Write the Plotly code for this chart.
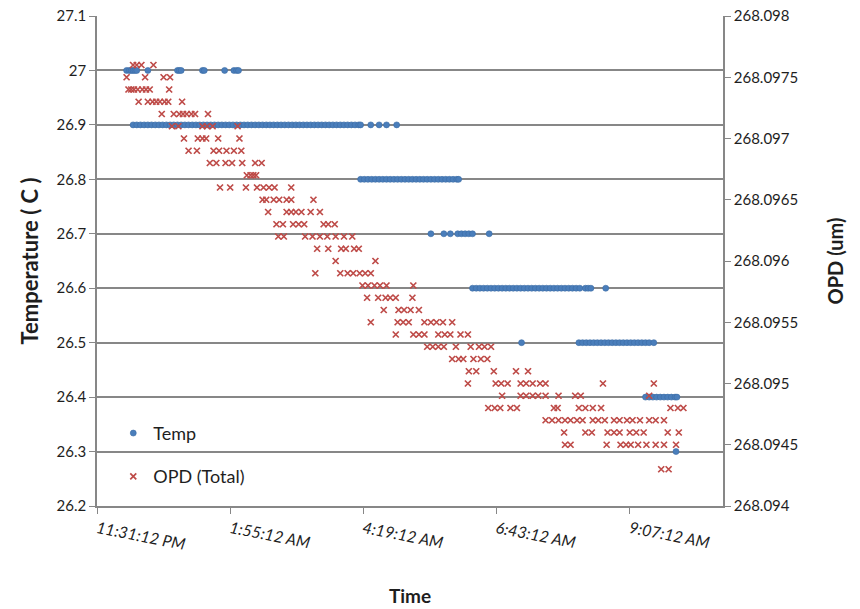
import pandas as pd
import plotly.graph_objects as go

# ---------------- data ----------------
start_time = "2020-01-01 23:31:12"          # 11:31:12 PM
x_axis_end_minutes = 676.8                  # axis max (0.47 day after start)

x_tick_minutes = [0, 144, 288, 432, 576]
x_tick_labels = ["11:31:12 PM", "1:55:12 AM", "4:19:12 AM", "6:43:12 AM", "9:07:12 AM"]

temp_tick_vals = [26.2, 26.3, 26.4, 26.5, 26.6, 26.7, 26.8, 26.9, 27.0, 27.1]
temp_tick_text = ["26.2", "26.3", "26.4", "26.5", "26.6", "26.7", "26.8", "26.9", "27", "27.1"]
opd_tick_vals = [268.094, 268.0945, 268.095, 268.0955, 268.096, 268.0965, 268.097, 268.0975, 268.098]
opd_tick_text = ["268.094", "268.0945", "268.095", "268.0955", "268.096", "268.0965", "268.097", "268.0975", "268.098"]

# Temperature samples: minutes after start, grouped by reading
temp_levels = [27.0, 26.9, 26.8, 26.7, 26.6, 26.5, 26.4, 26.3]
temp_minutes = [
    [32, 35, 37, 39, 41, 43, 55, 87, 89, 91, 114, 116, 138, 148, 151, 153],
    [39, 43, 47, 51, 55, 59, 63, 67, 71, 75, 79, 83, 87, 91, 95, 99, 103, 107, 111, 115,
     119, 123, 127, 131, 135, 139, 143, 147, 151, 155, 159, 163, 167, 171, 175, 179, 183,
     187, 191, 195, 199, 203, 207, 211, 215, 219, 223, 227, 231, 235, 239, 243, 247, 251,
     255, 259, 263, 267, 271, 275, 279, 283, 285, 296, 305, 313, 324],
    [285, 289, 293, 297, 301, 305, 309, 313, 317, 321, 325, 329, 333, 337, 341, 345, 349,
     353, 357, 361, 365, 369, 373, 377, 381, 385, 389, 391],
    [361, 375, 382, 390, 394, 398, 402, 406, 424],
    [406, 410, 414, 418, 422, 426, 430, 434, 438, 442, 446, 450, 454, 458, 462, 466, 470,
     474, 478, 482, 486, 490, 494, 498, 502, 506, 510, 514, 518, 522, 528, 531, 534, 550],
    [459, 521, 525, 529, 533, 537, 541, 545, 549, 553, 557, 561, 565, 569, 573, 577, 581,
     585, 589, 593, 597, 602],
    [593, 597, 601, 605, 609, 613, 617, 621, 625, 627],
    [626],
]

# OPD (Total) samples: minutes after start, grouped by reading (um)
opd_levels = [268.0976, 268.0975, 268.0974, 268.0973, 268.0972, 268.0971, 268.0970,
              268.0969, 268.0968, 268.0967, 268.0966, 268.0965, 268.0964, 268.0963,
              268.0962, 268.0961, 268.0960, 268.0959, 268.0958, 268.0957, 268.0956,
              268.0955, 268.0954, 268.0953, 268.0952, 268.0951, 268.0950, 268.0949,
              268.0948, 268.0947, 268.0946, 268.0945, 268.0943]
opd_minutes = [
    [39, 43, 48, 61],
    [32, 52, 72, 79],
    [34, 37, 40, 44, 49, 53, 57, 78],
    [45, 55, 60, 64, 68, 73, 77, 92],
    [70, 83, 89, 93, 97, 102, 106, 120],
    [81, 88, 114, 119, 125, 152],
    [94, 109, 114, 118, 131, 154],
    [99, 108, 126, 132, 140, 148, 156],
    [122, 129, 139, 146, 157, 171, 178],
    [162, 166, 169, 172],
    [133, 144, 161, 173, 180, 186, 192, 210],
    [179, 183, 191, 197, 205, 210, 234],
    [185, 205, 210, 215, 221, 231, 241],
    [194, 201, 212, 218, 224, 245, 250, 257],
    [196, 202, 225, 233, 241, 249, 258, 267, 276],
    [238, 250, 264, 269, 278, 283],
    [258, 301],
    [236, 263, 271, 277, 284, 290, 296],
    [287, 293, 300, 306, 313, 342],
    [292, 304, 312, 317, 323, 341],
    [310, 326, 332, 339, 348],
    [296, 325, 331, 337, 354, 361, 367, 374, 384],
    [323, 342, 348, 354, 369, 376, 382, 393, 401],
    [357, 363, 369, 375, 388, 404, 413, 419, 426],
    [384, 391, 396, 407, 415, 422],
    [402, 410, 429, 453, 466],
    [401, 431, 437, 444, 458, 464, 471, 479, 485, 547, 602],
    [438, 458, 464, 471, 477, 485, 499, 517, 523, 597],
    [423, 430, 436, 447, 454, 494, 498, 521, 528, 536, 545, 620, 628, 634],
    [485, 492, 499, 506, 512, 519, 525, 536, 542, 549, 559, 565, 573, 579, 587, 597, 604, 613],
    [505, 528, 535, 552, 559, 565, 576, 583, 591, 617, 629],
    [506, 512, 551, 566, 572, 577, 585, 594, 604, 613, 626],
    [610, 618],
]

# ---------------- build ----------------
base = pd.Timestamp(start_time)


def to_time(mins):
    return list(base + pd.to_timedelta(mins, unit="m"))


temp_x, temp_y = [], []
for lvl, mins in zip(temp_levels, temp_minutes):
    temp_x += to_time(mins)
    temp_y += [lvl] * len(mins)

opd_x, opd_y = [], []
for lvl, mins in zip(opd_levels, opd_minutes):
    opd_x += to_time(mins)
    opd_y += [lvl] * len(mins)

FONT = "Lato, 'Open Sans', sans-serif"
AXIS_GREY = "#878787"
TXT = "#1e1e1e"

fig = go.Figure()
fig.add_trace(go.Scatter(
    x=temp_x, y=temp_y, mode="markers", name="Temp", legendgroup="a",
    marker=dict(symbol="circle", size=6, color="#4A7EBB",
                line=dict(color="#3A6BA5", width=0.6)),
))
fig.add_trace(go.Scatter(
    x=opd_x, y=opd_y, mode="markers", name="OPD (Total)", yaxis="y2", legendgroup="b",
    marker=dict(symbol="x-thin", size=6, color="#BE4B48",
                line=dict(color="#BE4B48", width=1.7)),
))

fig.update_layout(
    width=860, height=609,
    margin=dict(l=97, r=137, t=16, b=103, autoexpand=False),
    paper_bgcolor="white", plot_bgcolor="white",
    font=dict(family=FONT, size=15, color=TXT),
    showlegend=True,
    legend=dict(x=0.026, y=0.186, xanchor="left", yanchor="top",
                bgcolor="rgba(0,0,0,0)", font=dict(size=18, color=TXT),
                tracegroupgap=17, itemsizing="trace", itemwidth=30),
    xaxis=dict(
        type="date", automargin=False,
        range=to_time([0, x_axis_end_minutes]),
        tickvals=to_time(x_tick_minutes), ticktext=x_tick_labels,
        tickangle=11,
        tickfont=dict(size=16, style="italic", color=TXT),
        ticks="outside", ticklen=6, tickcolor=AXIS_GREY, tickwidth=1.2,
        showline=True, linecolor=AXIS_GREY, linewidth=1.5,
        showgrid=False, zeroline=False,
        title=dict(text="Time", font=dict(size=19, weight="bold", color=TXT), standoff=38),
    ),
    yaxis=dict(
        automargin=False,
        range=[26.2, 27.1],
        tickvals=temp_tick_vals, ticktext=temp_tick_text,
        tickfont=dict(size=15, color=TXT),
        ticks="outside", ticklen=6, tickcolor=AXIS_GREY, tickwidth=1.2,
        showline=True, linecolor=AXIS_GREY, linewidth=1.5,
        showgrid=True, gridcolor=AXIS_GREY, gridwidth=1.6, zeroline=False,
        title=dict(text="Temperature ( C )", font=dict(size=22, weight="bold", color=TXT), standoff=12),
    ),
    yaxis2=dict(
        automargin=False,
        overlaying="y", side="right",
        range=[268.094, 268.098],
        tickvals=opd_tick_vals, ticktext=opd_tick_text,
        tickfont=dict(size=15, color=TXT),
        ticks="outside", ticklen=6, tickcolor=AXIS_GREY, tickwidth=1.2,
        showline=True, linecolor=AXIS_GREY, linewidth=1.5,
        showgrid=False, zeroline=False,
        title=dict(text="OPD (um)", font=dict(size=20, weight="bold", color=TXT), standoff=32),
    ),
)

fig.write_html("out.html")
